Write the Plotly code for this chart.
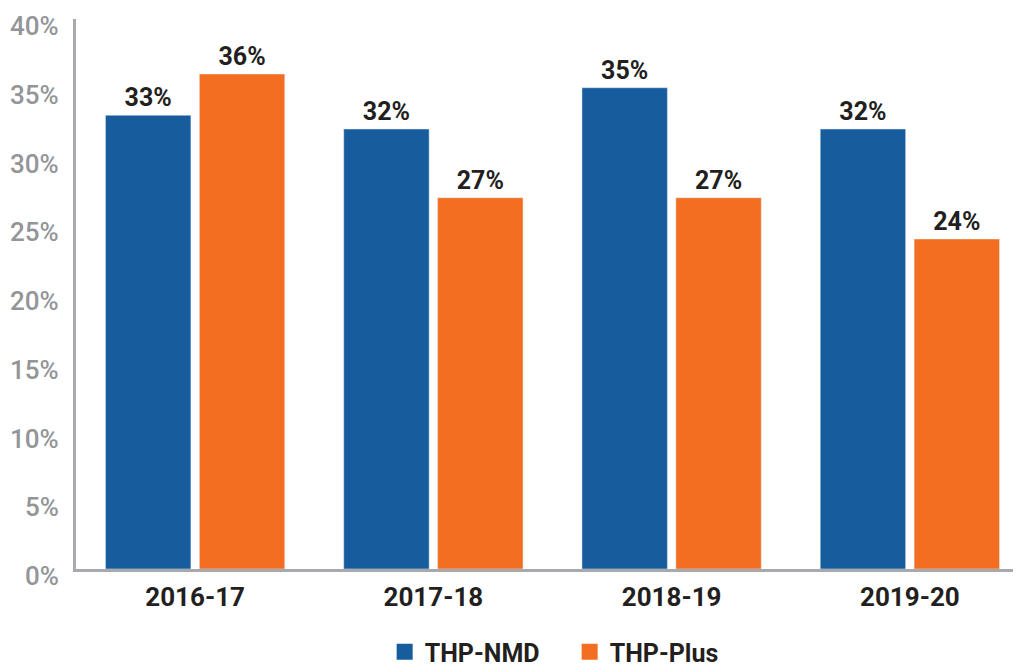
import plotly.graph_objects as go

categories = ["2016-17", "2017-18", "2018-19", "2019-20"]
thp_nmd = [33, 32, 35, 32]
thp_plus = [36, 27, 27, 24]
y_ticks = [0, 5, 10, 15, 20, 25, 30, 35, 40]
y_tick_labels = [f"{v}%" for v in y_ticks]

BLUE = "#175c9c"
ORANGE = "#f36e21"
FONT = "Roboto, Arial, sans-serif"

fig = go.Figure()
for name, vals, col in [("THP-NMD", thp_nmd, BLUE), ("THP-Plus", thp_plus, ORANGE)]:
    fig.add_trace(go.Bar(
        name=name, x=categories, y=vals, marker_color=col, showlegend=False,
        text=[f"{v}%" for v in vals], textposition="outside", cliponaxis=False,
        textfont=dict(family=FONT, size=25, color="#231f20", weight="bold"),
    ))
    # legend entry with a larger square swatch
    fig.add_trace(go.Scatter(
        name=name, x=[None], y=[None], mode="markers",
        marker=dict(symbol="square", size=22, color=col), showlegend=True,
    ))

# y tick labels, drawn slightly below their tick positions as in the reference
for v, lab in zip(y_ticks, y_tick_labels):
    fig.add_annotation(
        x=0, xref="paper", y=v, yref="y", text=lab, showarrow=False,
        xanchor="right", yanchor="middle", xshift=-15, yshift=-7,
        font=dict(family=FONT, size=26, color="#939598", weight=500),
    )

fig.update_layout(
    width=1021, height=667,
    margin=dict(l=68, r=0, t=11, b=106, autoexpand=False),
    barmode="group", bargap=0.212, bargroupgap=0.09,
    plot_bgcolor="white", paper_bgcolor="white",
    showlegend=True,
    legend=dict(orientation="h", x=0.518, xanchor="center", y=-0.151, yanchor="middle",
                font=dict(family=FONT, size=25, color="#231f20", weight="bold"),
                entrywidth=140, entrywidthmode="pixels", itemsizing="trace"),
)
fig.update_xaxes(
    range=[-0.5, 3.5], showline=True, linecolor="#a7a9ac", linewidth=3,
    showgrid=False, ticks="", ticklabelstandoff=3, automargin=False,
    tickfont=dict(family=FONT, size=26, color="#231f20", weight="bold"),
)
fig.update_yaxes(
    range=[0, 40], tickvals=y_ticks, showticklabels=False,
    showline=True, linecolor="#a7a9ac", linewidth=3, showgrid=False,
    zeroline=False, ticks="", automargin=False,
)

fig.write_html("out.html")
